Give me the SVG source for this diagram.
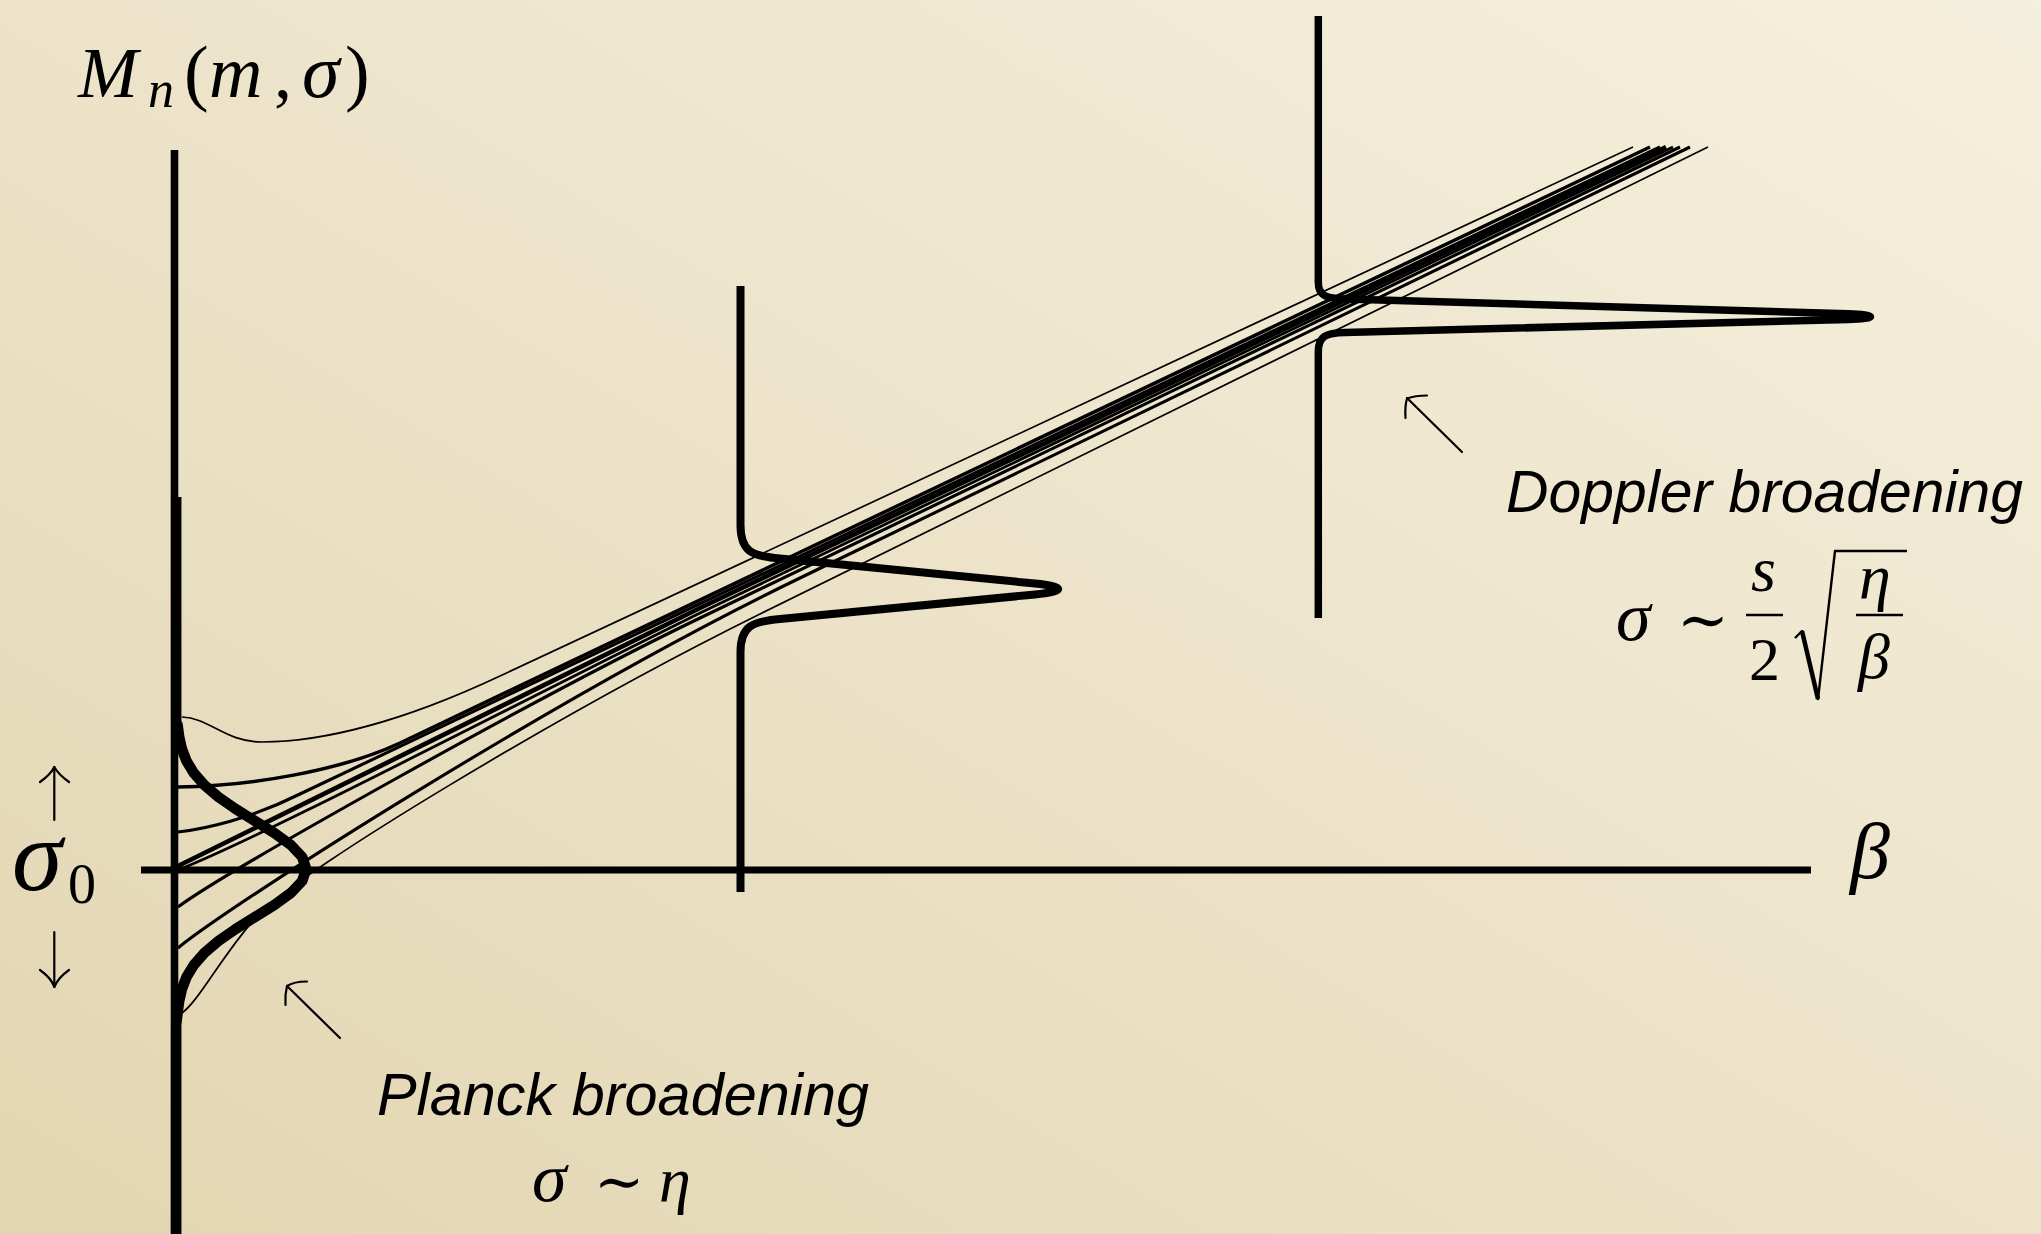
<svg xmlns="http://www.w3.org/2000/svg" width="2041" height="1234" viewBox="0 0 2041 1234">
<defs>
<linearGradient id="bg" x1="0" y1="1" x2="1" y2="0">
<stop offset="0" stop-color="#e2d5b1"/>
<stop offset="0.45" stop-color="#ebe2c7"/>
<stop offset="1" stop-color="#f5efdd"/>
</linearGradient>
</defs>
<style>
.ln{fill:none;stroke:#000;stroke-linejoin:round}
.ray{fill:none;stroke:#000;stroke-linejoin:round}
.thin{stroke-width:1.7}
.med{stroke-width:3.1}
.arr{fill:none;stroke:#000;stroke-width:2.2;stroke-linecap:round;stroke-linejoin:round}
.mi{font-family:"Liberation Serif","DejaVu Serif",serif;font-style:italic;fill:#000}
.mr{font-family:"Liberation Serif","DejaVu Serif",serif;fill:#000}
.sym{font-family:"DejaVu Serif","Liberation Serif",serif;fill:#000}
.lbl{font-family:"Liberation Sans",Arial,sans-serif;font-style:italic;font-size:60px;fill:#000}
</style>
<rect width="2041" height="1234" fill="url(#bg)"/>

<g id="axes">
<path class="ln" d="M174.5 150 V1234" stroke-width="7.6"/>
<path class="ln" d="M141 870 H1811" stroke-width="7"/>
</g>

<g id="planck-profile">
<path class="ln" stroke-width="10.5" d="M176.2 497 V725 L177.6 725 L179.2 737 L181.9 749 L186.5 761 L193.8 773 L204.3 785 L218.4 797 L235.7 809 L255 821 L274.3 833 L290.9 845 L302.2 857 L306.2 869 L302.2 881 L290.9 893 L274.3 905 L255 917 L235.7 929 L218.4 941 L204.3 953 L193.8 965 L186.5 977 L181.9 989 L179.2 1001 L177.6 1013 L176.2 1025 V1240"/>
</g>

<g id="mid-profile">
<path class="ln" stroke-width="8" d="M740.5 286 V525 C740.5 552 752 556 780 558.6 L1035 583.5 C1066 586.5 1066 591.5 1035 594.5 L780 619 C752 621.5 740.5 626 740.5 652 V892"/>
</g>

<g id="doppler-profile">
<path class="ln" stroke-width="7.5" d="M1318.3 16 V282 C1318.3 296 1326 298.5 1345 299 L1848 313.8 C1878 314.7 1878 318.6 1848 319.5 L1345 332.5 C1326 333 1318.3 336 1318.3 352 V618"/>
</g>

<g id="rays">
<path class="ray thin" d="M182 717 C210 718 225 742 262 742 C320 742 400 723 500 676 L1633 147"/>
<path class="ray" stroke-width="3.5" d="M178 787 C250 786 340 771 400 743 L1650 147"/>
<path class="ray med" d="M178 832 C205 829 250 819 300 794 L1660 147"/>
<path class="ray" stroke-width="4.6" d="M178 866 L700 608 L1666 147"/>
<path class="ray" stroke-width="2.8" d="M178 870 C260 838 500 712 700 613 L1673 147"/>
<path class="ray med" d="M178 907 C225 872 540 695 700 618 L1680 147"/>
<path class="ray med" d="M178 948 C230 905 560 694 800 578 L1690 147"/>
<path class="ray thin" d="M182 1013 C200 1000 225 950 260 913 C300 871 560 713 760 614 L1708 147"/>
</g>

<g id="arrows">
<path class="arr" d="M340 1038 L287 986"/>
<path class="arr" d="M307 981.5 C298 981.5 290 984 287 986 C286 990 285 998 285.5 1005"/>
<path class="arr" d="M1462 452 L1407 398"/>
<path class="arr" d="M1427 395.5 C1419 395.5 1411 397 1407 398.5 C1406 402 1405 411 1405.5 418"/>
<path class="arr" d="M54.3 767 V820"/>
<path class="arr" d="M40 782 C47 777 52 772 54.3 767 C57 772 62 777 69 782"/>
<path class="arr" d="M54.3 932 V987"/>
<path class="arr" d="M40 970 C47 975 52 980 54.3 987 C57 980 62 975 69 970"/>
</g>

<g id="label-Mn">
<text class="mi" x="78" y="97" font-size="72">M</text>
<text class="mi" x="148" y="107" font-size="52">n</text>
<text class="mr" x="184" y="97" font-size="74">(</text>
<text class="mi" x="209" y="97" font-size="74">m</text>
<text class="mr" x="274" y="97" font-size="72">,</text>
<text class="mi" x="302" y="97" font-size="76">σ</text>
<text class="mr" x="345" y="97" font-size="74">)</text>
</g>

<g id="label-beta">
<text class="mi" x="1850" y="878" font-size="80">β</text>
</g>

<g id="label-sigma0">
<text class="mi" x="12" y="890" font-size="102">σ</text>
<text class="mr" x="68" y="903" font-size="56">0</text>
</g>

<g id="label-planck">
<text class="lbl" x="377" y="1115" textLength="492" lengthAdjust="spacingAndGlyphs">Planck broadening</text>
<text class="mi" x="532" y="1201" font-size="70">σ</text>
<text class="sym" x="594" y="1202" font-size="60">∼</text>
<text class="mi" x="659" y="1201" font-size="64">η</text>
</g>

<g id="label-doppler">
<text class="lbl" x="1506" y="512" textLength="517" lengthAdjust="spacingAndGlyphs">Doppler broadening</text>
<text class="mi" x="1616" y="640" font-size="70">σ</text>
<text class="sym" x="1677" y="641" font-size="62">∼</text>
<text class="mi" x="1751" y="591" font-size="64">s</text>
<path class="ln" stroke-width="2.4" d="M1746 615 H1783"/>
<text class="mr" x="1749" y="680" font-size="62">2</text>
<path class="ln" stroke-width="2.4" d="M1795 638 L1802 631 L1818 699 L1835 551 H1907"/>
<path class="ln" stroke-width="4.5" d="M1802 631 L1818 699"/>
<text class="mi" x="1859" y="598" font-size="64">η</text>
<path class="ln" stroke-width="2.4" d="M1856 615 H1903"/>
<text class="mi" x="1858" y="678" font-size="64">β</text>
</g>
</svg>
